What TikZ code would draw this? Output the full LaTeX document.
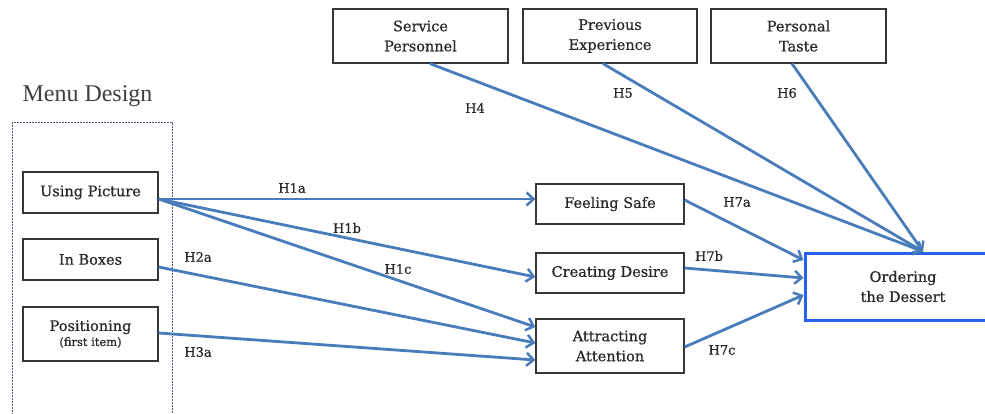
\documentclass[tikz,border=0pt]{standalone}
\usepackage{fontspec}
\setmainfont{DejaVu Serif}[FakeBold=0.6]
\newfontfamily\headfont{Liberation Serif}
\usetikzlibrary{arrows.meta,calc}
\definecolor{linkblue}{RGB}{72,124,186}
\definecolor{goalblue}{RGB}{38,98,232}
\definecolor{boxgray}{RGB}{55,55,55}
\definecolor{txtgray}{RGB}{40,40,40}
\definecolor{framegray}{RGB}{80,90,120}
\begin{document}
\begin{tikzpicture}[x=1pt,y=-1pt,
  boxtext/.style={font=\fontsize{14.5}{20}\selectfont, text=txtgray, align=center},
  varbox/.style={draw=boxgray, line width=1.3pt, fill=white, inner sep=0pt, boxtext},
  goalbox/.style={draw=goalblue, line width=3pt, fill=white, inner sep=0pt, boxtext},
  link/.style={draw=linkblue, line width=2.8pt,
    -{Straight Barb[length=7pt,width=13pt,line width=2.5pt]}},
  hlabel/.style={font=\fontsize{13}{15}\selectfont, text=txtgray, inner sep=0pt}]
\useasboundingbox (0,0) rectangle (985,414);
\fill[white] (0,0) rectangle (985,414);

% group frame and title
\draw[draw=framegray, line width=0.8pt, dash pattern=on 1.6pt off 1.4pt]
  (12,122) rectangle (172,420);
\node[font=\headfont\fontsize{24}{26}\selectfont, text=black!75] (title) at (87.5,96) {Menu Design};

% menu design factors
\node[varbox, minimum width=135pt, minimum height=41pt] (up) at (90.5,192.5) {Using Picture};
\node[varbox, minimum width=135pt, minimum height=41pt] (ib) at (90.5,259.5) {In Boxes};
\node[varbox, minimum width=135pt, minimum height=54pt] (pos) at (90.5,334)
  {Positioning\\[-5pt]{\fontsize{11.5}{14}\selectfont(first item)}};

% external factors
\node[varbox, minimum width=175pt, minimum height=54pt] (sp) at (420.5,36) {Service\\Personnel};
\node[varbox, minimum width=174pt, minimum height=54pt] (pe) at (610,36) {Previous\\Experience};
\node[varbox, minimum width=175pt, minimum height=54pt] (pt) at (798.5,36) {Personal\\Taste};

% mediators
\node[varbox, minimum width=148pt, minimum height=40pt] (fs) at (610,204) {Feeling Safe};
\node[varbox, minimum width=148pt, minimum height=40pt] (cd) at (610,273) {Creating Desire};
\node[varbox, minimum width=148pt, minimum height=54pt] (aa) at (610,346) {Attracting\\Attention};

% outcome
\node[goalbox, minimum width=196pt, minimum height=67pt] (od) at (903,286.5) {Ordering\\the Dessert};

% paths from menu design
\draw[link] ($(up.east)+(0,6.5)$) -- ($(fs.west)+(0,-5)$);
\draw[link] ($(up.east)+(0,6.5)$) -- ($(cd.west)+(0,4)$);
\draw[link] ($(up.east)+(0,6.5)$) -- ($(aa.west)+(0,-19)$);
\draw[link] ($(ib.east)+(0,7.5)$) -- ($(aa.west)+(0,-3)$);
\draw[link] ($(pos.east)+(0,-1)$) -- ($(aa.west)+(0,14)$);

% paths from mediators
\draw[link] ($(fs.east)+(0,-4)$) -- ($(od.west)+(0,-26.5)$);
\draw[link] ($(cd.east)+(0,-5)$) -- ($(od.west)+(0,-8.5)$);
\draw[link] ($(aa.east)+(0,1)$) -- ($(od.west)+(0,8.5)$);

% paths from external factors
\draw[link] ($(sp.south)+(9.5,0)$) -- ($(od.north)+(20,0)$);
\draw[link] ($(pe.south)+(-7,0)$) -- ($(od.north)+(20,0)$);
\draw[link] ($(pt.south)+(-6.5,0)$) -- ($(od.north)+(20,0)$);

% hypothesis labels
\node[hlabel] (h1a) at (292,188) {H1a};
\node[hlabel] (h1b) at (347,228) {H1b};
\node[hlabel] (h1c) at (398,269) {H1c};
\node[hlabel] (h2a) at (198,257) {H2a};
\node[hlabel] (h3a) at (198,352) {H3a};
\node[hlabel] (h4) at (475,108) {H4};
\node[hlabel] (h5) at (623,93) {H5};
\node[hlabel] (h6) at (787,93) {H6};
\node[hlabel] (h7a) at (737,202) {H7a};
\node[hlabel] (h7b) at (709,256) {H7b};
\node[hlabel] (h7c) at (722,350) {H7c};
\end{tikzpicture}
\end{document}
